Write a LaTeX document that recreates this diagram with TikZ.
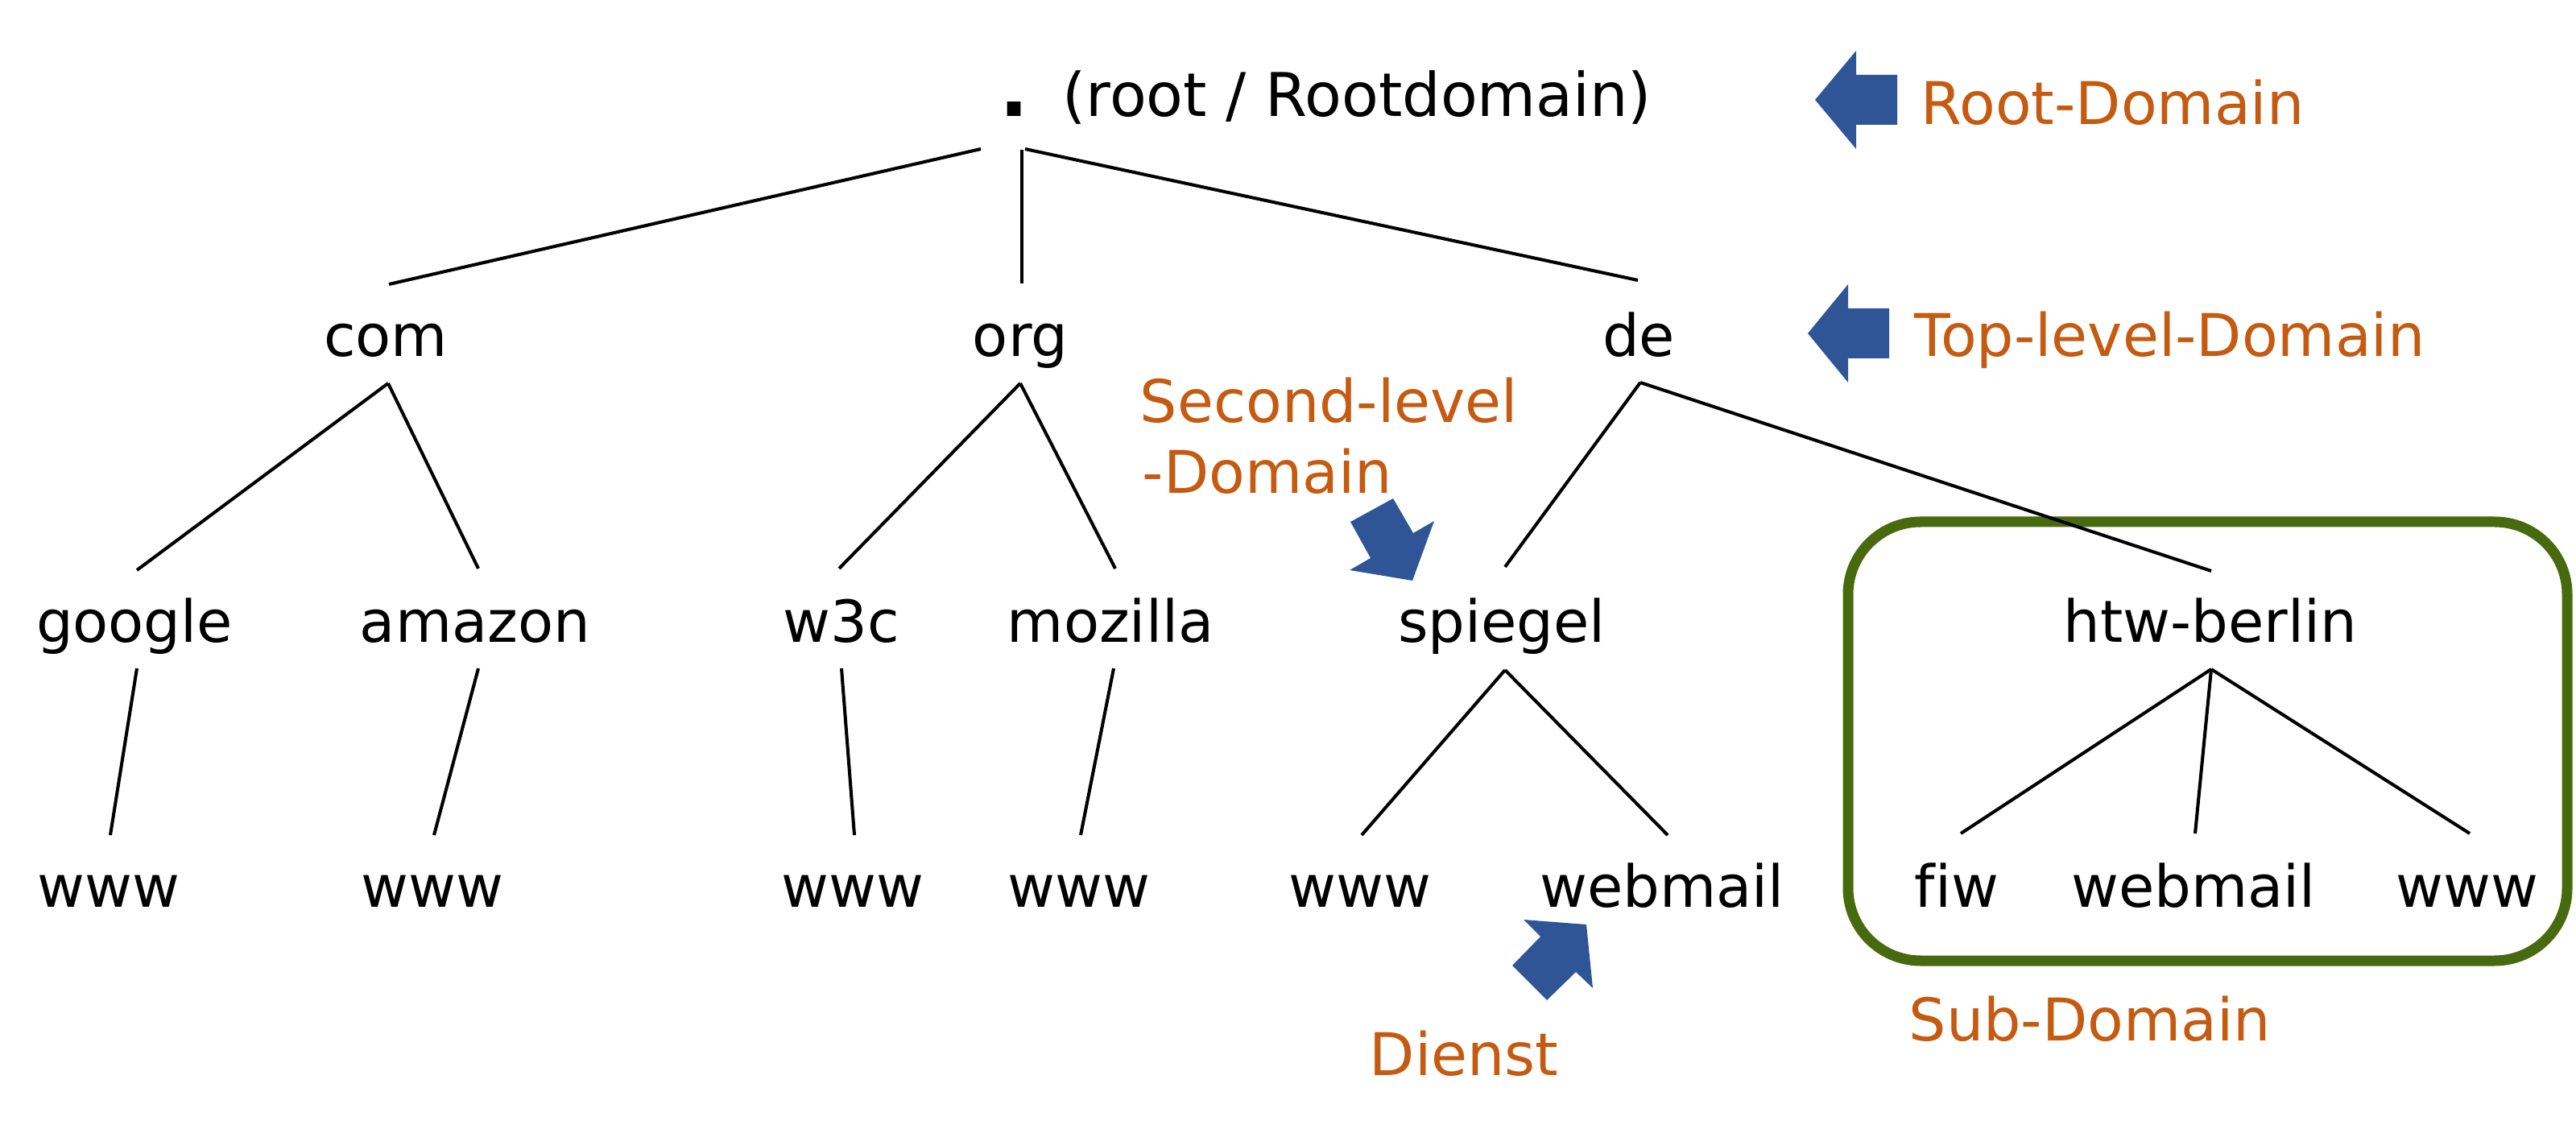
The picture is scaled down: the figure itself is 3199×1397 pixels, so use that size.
\documentclass[tikz,border=0pt]{standalone}
\usepackage{fontspec}
\setmainfont[Ligatures=NoCommon]{DejaVu Sans}
\definecolor{orng}{HTML}{C55A11}
\definecolor{arrblue}{HTML}{2F5597}
\definecolor{boxgreen}{HTML}{476A0E}
\begin{document}
\begin{tikzpicture}[x=0.1mm,y=-0.1mm,
  lbl/.style={inner sep=0pt, anchor=base, font=\fontsize{20.5pt}{24pt}\selectfont},
  olbl/.style={inner sep=0pt, anchor=base west, text=orng, font=\fontsize{20.8pt}{24pt}\selectfont},
  conn/.style={line width=1.15pt, black},
  blockarrow/.style={fill=arrblue, draw=none},
  subbox/.style={draw=boxgreen, line width=3.7pt, rounded corners=9mm}]
\useasboundingbox (0,0) rectangle (3199,1397);

% sub-domain box
\draw[subbox] (2295,648) rectangle (3188,1193);

% nodes
\node[lbl, font=\fontsize{27pt}{30pt}\selectfont\bfseries] (root) at (1260,145) {.};
\node[lbl, anchor=base west, font=\fontsize{21.3pt}{24pt}\selectfont] (rootlbl) at (1319,145) {(root / Rootdomain)};
\node[lbl] (com) at (479,443) {com};
\node[lbl] (org) at (1267,443) {org};
\node[lbl] (de) at (2035,443) {de};
\node[lbl] (google) at (167,797) {google};
\node[lbl] (amazon) at (590,797) {amazon};
\node[lbl] (w3c) at (1045,797) {w3c};
\node[lbl] (mozilla) at (1379,797) {mozilla};
\node[lbl] (spiegel) at (1865,797) {spiegel};
\node[lbl] (htw) at (2745,797) {htw-berlin};
\node[lbl] (www1) at (135,1126) {www};
\node[lbl] (www2) at (537,1126) {www};
\node[lbl] (www3) at (1059,1126) {www};
\node[lbl] (www4) at (1340,1126) {www};
\node[lbl] (www5) at (1689,1126) {www};
\node[lbl] (webmail1) at (2064,1126) {webmail};
\node[lbl] (fiw) at (2430,1126) {fiw};
\node[lbl] (webmail2) at (2724,1126) {webmail};
\node[lbl] (www6) at (3064,1126) {www};

% orange labels
\node[olbl] (lroot) at (2385,155) {Root-Domain};
\node[olbl] (ltop) at (2377,443) {Top-level-Domain};
\node[olbl] (lsec1) at (1415,525) {Second-level};
\node[olbl] (lsec2) at (1418,613) {-Domain};
\node[olbl] (lsub) at (2370,1292) {Sub-Domain};
\node[olbl] (ldienst) at (1700,1335) {Dienst};

% connector end points
\coordinate (root-l) at (1218,185);
\coordinate (root-c) at (1269,186);
\coordinate (root-r) at (1273,185);
\coordinate (com-t) at (483,353);
\coordinate (org-t) at (1269,352);
\coordinate (de-t) at (2034,348);
\coordinate (com-b) at (482,476);
\coordinate (org-b) at (1267,476);
\coordinate (de-b) at (2037,475);
\coordinate (google-t) at (170,708);
\coordinate (amazon-t) at (594,706);
\coordinate (w3c-t) at (1042,706);
\coordinate (mozilla-t) at (1385,706);
\coordinate (spiegel-t) at (1869,704);
\coordinate (htw-t) at (2746,709);
\coordinate (google-b) at (170,830);
\coordinate (amazon-b) at (594,830);
\coordinate (w3c-b) at (1045,830);
\coordinate (mozilla-b) at (1383,830);
\coordinate (spiegel-b) at (1869,832);
\coordinate (htw-b) at (2746,831);
\coordinate (www1-t) at (137,1037);
\coordinate (www2-t) at (539,1037);
\coordinate (www3-t) at (1061,1037);
\coordinate (www4-t) at (1342,1037);
\coordinate (www5-t) at (1691,1037);
\coordinate (webmail1-t) at (2071,1037);
\coordinate (fiw-t) at (2435,1035);
\coordinate (webmail2-t) at (2726,1035);
\coordinate (www6-t) at (3067,1035);

% connectors
\draw[conn] (root-l) -- (com-t);
\draw[conn] (root-c) -- (org-t);
\draw[conn] (root-r) -- (de-t);
\draw[conn] (com-b) -- (google-t);
\draw[conn] (com-b) -- (amazon-t);
\draw[conn] (org-b) -- (w3c-t);
\draw[conn] (org-b) -- (mozilla-t);
\draw[conn] (de-b) -- (spiegel-t);
\draw[conn] (de-b) -- (htw-t);
\draw[conn] (google-b) -- (www1-t);
\draw[conn] (amazon-b) -- (www2-t);
\draw[conn] (w3c-b) -- (www3-t);
\draw[conn] (mozilla-b) -- (www4-t);
\draw[conn] (spiegel-b) -- (www5-t);
\draw[conn] (spiegel-b) -- (webmail1-t);
\draw[conn] (htw-b) -- (fiw-t);
\draw[conn] (htw-b) -- (webmail2-t);
\draw[conn] (htw-b) -- (www6-t);

% block arrows
\fill[blockarrow] (2254,124) -- (2305,63) -- (2305,93) -- (2356,93) -- (2356,155) -- (2305,155) -- (2305,185) -- cycle;
\fill[blockarrow] (2245,414) -- (2295,353) -- (2295,383) -- (2346,383) -- (2346,445) -- (2295,445) -- (2295,475) -- cycle;
\fill[blockarrow] (1677,648) -- (1730,619) -- (1755,662) -- (1781,647) -- (1754,721) -- (1676,708) -- (1702,693) -- cycle;
\fill[blockarrow] (1892,1142) -- (1970,1148) -- (1978,1227) -- (1957,1207) -- (1921,1242) -- (1878,1199) -- (1913,1163) -- cycle;
\end{tikzpicture}
\end{document}
